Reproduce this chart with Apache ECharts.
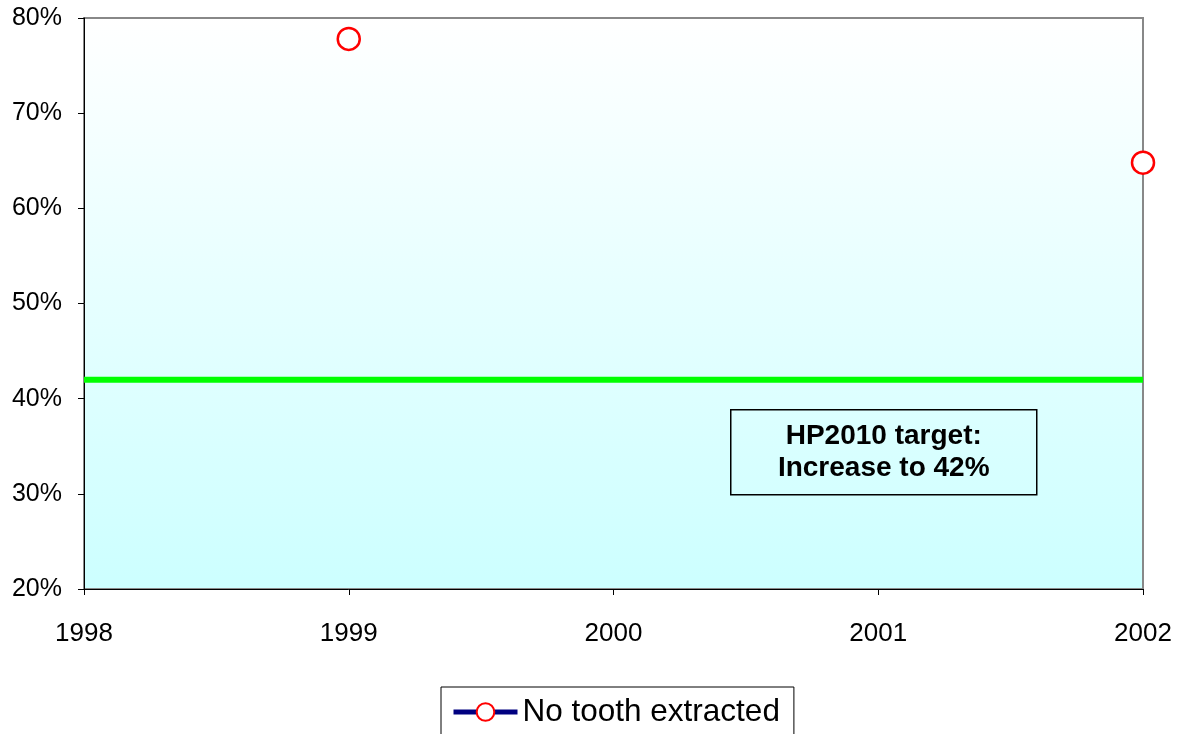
<!DOCTYPE html>
<html><head><meta charset="utf-8">
<script src="https://cdn.jsdelivr.net/npm/echarts@6/dist/echarts.min.js"></script>
<style>html,body{margin:0;padding:0;background:#fff}#c{width:1186px;height:734px}</style>
</head><body><div id="c"></div>
<script>
const years = [1998, 1999, 2000, 2001, 2002];
const noToothExtracted = [null, 77.8, null, null, 64.8];
const targetYears = [1998, 2002];
const targetValues = [42, 42];
const yTicks = [20, 30, 40, 50, 60, 70, 80];
const seriesName = 'No tooth extracted';
const annotationLines = ['HP2010 target:', 'Increase to 42%'];

const chart = echarts.init(document.getElementById('c'));
const font = '"Liberation Sans", Arial, sans-serif';
chart.setOption({
  animation: false,
  grid: {
    left: 84, right: 43, top: 18, bottom: 145,
    show: true,
    borderColor: '#888888', borderWidth: 2,
    backgroundColor: new echarts.graphic.LinearGradient(0, 0, 0, 1, [
      {offset: 0, color: '#ffffff'}, {offset: 1, color: '#ccffff'}
    ])
  },
  xAxis: {
    type: 'value', min: years[0], max: years[years.length - 1], interval: 1,
    axisLine: {show: true, onZero: false, lineStyle: {color: '#000', width: 1}},
    axisTick: {show: true, length: 6, lineStyle: {color: '#000'}},
    splitLine: {show: false},
    axisLabel: {color: '#000', fontSize: 26, fontFamily: font, margin: 32, formatter: v => String(v)}
  },
  yAxis: {
    type: 'value', min: yTicks[0], max: yTicks[yTicks.length - 1], interval: 10,
    axisLine: {show: true, lineStyle: {color: '#000', width: 1}},
    axisTick: {show: true, length: 6, lineStyle: {color: '#000'}},
    splitLine: {show: false},
    axisLabel: {color: '#000', fontSize: 25, fontFamily: font, margin: 22, formatter: v => v + '%'}
  },
  legend: {
    top: 687, left: 441,
    data: [seriesName],
    itemWidth: 64, itemHeight: 22,
    padding: [9, 14, 30, 10],
    borderColor: '#000', borderWidth: 1,
    textStyle: {fontSize: 31.5, fontFamily: font, color: '#000'},
    lineStyle: {width: 5, color: '#000080'},
    itemGap: 4
  },
  series: [
    {
      name: 'target', type: 'line',
      data: targetYears.map((x, i) => [x, targetValues[i]]),
      symbol: 'none',
      lineStyle: {color: '#00ff00', width: 6},
      z: 3, silent: true
    },
    {
      name: seriesName, type: 'line',
      data: years.map((x, i) => [x, noToothExtracted[i]]),
      connectNulls: false,
      symbol: 'circle', symbolSize: 22, showAllSymbol: true,
      lineStyle: {color: '#000080', width: 5},
      itemStyle: {color: '#ffffff', borderColor: '#ff0000', borderWidth: 2.5},
      z: 4
    }
  ],
  graphic: [
    {
      type: 'group', left: 730, top: 409,
      children: [
        {type: 'rect', shape: {x: 0, y: 0, width: 306, height: 85},
         style: {fill: 'transparent', stroke: '#000', lineWidth: 1.5}},
        {type: 'text', x: 153, y: 43,
         style: {text: annotationLines.join('\n'), fontSize: 28, fontWeight: 'bold', fontFamily: font,
                 fill: '#000', textAlign: 'center', textVerticalAlign: 'middle', lineHeight: 32}}
      ]
    }
  ]
});
</script>
</body></html>
